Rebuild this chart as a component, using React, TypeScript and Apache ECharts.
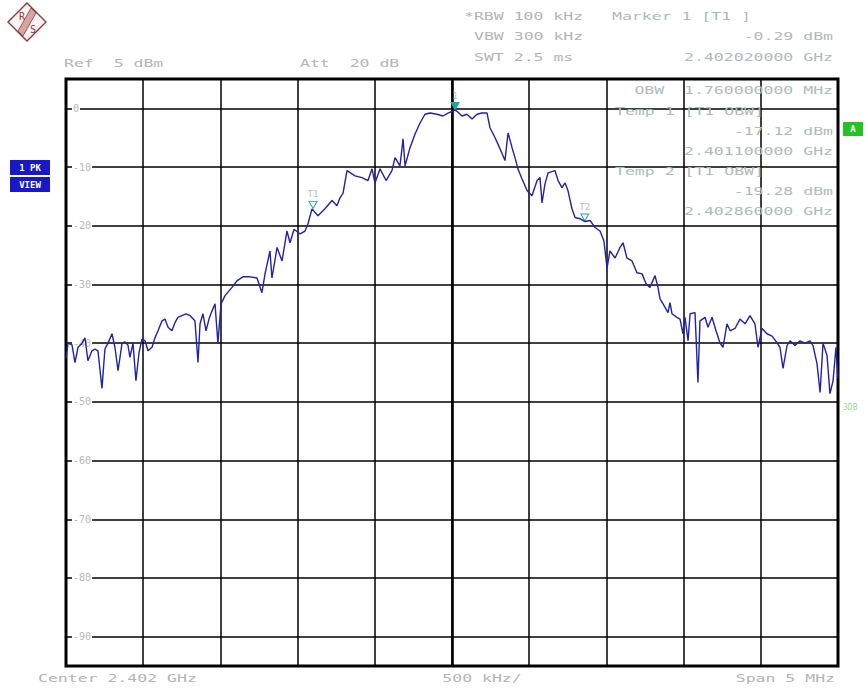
import React, { useEffect, useRef } from "react";
import * as echarts from "echarts";

// Frequency offset from the 2.402 GHz centre (MHz) and measured level (dBm)
const freqOffsetMHz = [
  -2.5, -2.487, -2.461, -2.442, -2.422, -2.396, -2.377, -2.358, -2.332, -2.312,
  -2.293, -2.267, -2.248, -2.228, -2.202, -2.183, -2.163, -2.137, -2.118, -2.099,
  -2.086, -2.066, -2.047, -2.027, -2.008, -1.988, -1.969, -1.943, -1.924, -1.904,
  -1.878, -1.859, -1.839, -1.814, -1.794, -1.775, -1.749, -1.723, -1.697, -1.665,
  -1.645, -1.632, -1.613, -1.593, -1.574, -1.554, -1.535, -1.516, -1.496, -1.47,
  -1.425, -1.393, -1.354, -1.308, -1.263, -1.231, -1.211, -1.179, -1.166, -1.133,
  -1.101, -1.069, -1.049, -1.023, -0.984, -0.952, -0.933, -0.907, -0.868, -0.823,
  -0.777, -0.745, -0.725, -0.706, -0.68, -0.628, -0.583, -0.544, -0.518, -0.499,
  -0.466, -0.427, -0.389, -0.369, -0.337, -0.317, -0.304, -0.272, -0.24, -0.207,
  -0.175, -0.142, -0.097, -0.058, -0.026, 0.019, 0.032, 0.065, 0.097, 0.13,
  0.162, 0.194, 0.227, 0.246, 0.279, 0.311, 0.343, 0.363, 0.389, 0.408,
  0.427, 0.453, 0.486, 0.518, 0.551, 0.57, 0.583, 0.602, 0.622, 0.667,
  0.687, 0.712, 0.732, 0.751, 0.777, 0.797, 0.829, 0.861, 0.894, 0.926,
  0.959, 0.984, 1.004, 1.023, 1.056, 1.088, 1.108, 1.133, 1.166, 1.198,
  1.231, 1.257, 1.282, 1.315, 1.334, 1.347, 1.367, 1.399, 1.412, 1.425,
  1.457, 1.477, 1.496, 1.509, 1.529, 1.542, 1.574, 1.593, 1.606, 1.639,
  1.658, 1.684, 1.71, 1.736, 1.755, 1.781, 1.801, 1.833, 1.865, 1.898,
  1.93, 1.962, 1.982, 2.008, 2.04, 2.073, 2.105, 2.124, 2.144, 2.17,
  2.189, 2.222, 2.254, 2.286, 2.319, 2.338, 2.364, 2.384, 2.403, 2.429,
  2.448, 2.468, 2.487, 2.5,
];

const levelDbm = [
  -42.6, -40.0, -40.3, -43.3, -40.7, -40.0, -39.1, -43.0, -41.3, -41.0,
  -41.3, -47.7, -41.0, -40.0, -38.4, -40.7, -44.7, -40.0, -39.8, -40.3,
  -42.4, -40.0, -46.4, -41.6, -39.3, -39.6, -41.3, -40.7, -39.1, -37.9,
  -36.2, -35.9, -37.3, -37.9, -36.5, -35.6, -35.3, -35.0, -35.3, -36.2,
  -43.3, -36.7, -35.0, -37.9, -35.9, -34.5, -33.3, -40.0, -33.3, -31.9,
  -30.5, -29.4, -28.7, -28.7, -28.9, -31.4, -28.2, -24.3, -28.9, -23.7,
  -26.0, -20.9, -22.9, -20.6, -21.4, -20.9, -19.7, -17.12, -18.3, -17.1,
  -15.7, -16.6, -15.2, -14.5, -10.6, -11.5, -11.8, -12.3, -10.3, -12.7,
  -10.3, -12.3, -10.6, -8.4, -9.8, -5.2, -9.8, -6.7, -4.4, -2.5,
  -1.0, -0.8, -1.0, -1.3, -0.8, -0.29, -0.5, -1.3, -1.0, -1.8,
  -1.0, -0.8, -0.8, -3.3, -5.0, -6.9, -8.9, -4.2, -6.7, -8.4,
  -10.3, -12.0, -14.0, -14.9, -12.3, -11.8, -16.1, -12.9, -11.0, -10.6,
  -12.3, -13.5, -12.7, -14.0, -17.1, -18.6, -18.8, -19.28, -19.1, -20.3,
  -20.9, -22.6, -27.2, -24.3, -25.5, -23.7, -22.9, -25.5, -26.0, -28.0,
  -28.2, -29.9, -30.5, -28.5, -30.5, -32.4, -33.3, -34.8, -33.1, -35.0,
  -35.6, -35.9, -38.4, -35.6, -39.6, -35.0, -34.8, -46.7, -36.2, -35.6,
  -37.3, -35.6, -37.9, -40.0, -40.7, -36.7, -37.9, -37.5, -35.9, -36.7,
  -35.3, -36.7, -40.7, -37.5, -38.4, -38.8, -39.9, -40.7, -44.3, -40.4,
  -39.6, -40.4, -39.6, -40.0, -39.6, -40.4, -43.5, -48.4, -40.0, -42.1,
  -48.6, -46.4, -40.7, -46.0,
];

const markerNames = ["1", "T1", "T2"];
const markerFreqOffsetMHz = [0.02, -0.9, 0.86];
const markerLevelDbm = [-0.29, -17.12, -19.28];

const levelTickLabels = ["0", "-10", "-20", "-30", "-40", "-50", "-60", "-70", "-80", "-90"];

const setupLeft = ["Ref  5 dBm", "Att  20 dB"];
const setupBandwidth = ["*RBW 100 kHz", "VBW 300 kHz", "SWT 2.5 ms"];
const markerTitle = "Marker 1 [T1 ]";
const markerReadout = ["-0.29 dBm", "2.402020000 GHz"];
const obwLine = "OBW  1.760000000 MHz";
const tempTitles = ["Temp 1 [T1 OBW]", "Temp 2 [T1 OBW]"];
const tempReadouts = ["-17.12 dBm", "2.401100000 GHz", "-19.28 dBm", "2.402860000 GHz"];
const footer = ["Center 2.402 GHz", "500 kHz/", "Span 5 MHz"];
const traceTags = ["1 PK", "VIEW"];

const MONO = "'DejaVu Sans Mono', 'Liberation Mono', monospace";
const GREY = "#b4b4b4";
const PANEL = "#aebbb8";

function txt(x: number, y: number, text: string, align: string = "left", fill: string = GREY, size = 11, sx = 1.5) {
  return {
    type: "text",
    x,
    y,
    scaleX: sx,
    z: 20,
    silent: true,
    style: {
      text,
      fill,
      font: `${size}px ${MONO}`,
      textAlign: align,
      textVerticalAlign: "middle",
      verticalAlign: "middle",
    },
  };
}

export default function App() {
  const ref = useRef<HTMLDivElement>(null);

  useEffect(() => {
    if (!ref.current) return;
    const chart = echarts.init(ref.current, null, { renderer: "svg" });

    const traceData = freqOffsetMHz.map((f, i) => [f, levelDbm[i]]);

    const markPoints = markerNames.map((name, i) => ({
      name,
      coord: [markerFreqOffsetMHz[i], markerLevelDbm[i]],
      symbol: "triangle",
      symbolRotate: 180,
      symbolSize: [8, 7],
      symbolOffset: [0, -4],
      itemStyle: {
        color: i === 0 ? "#1fa596" : "rgba(255,255,255,0.6)",
        borderColor: "#2aa89a",
        borderWidth: 1,
      },
      label: {
        show: true,
        formatter: name,
        position: "top",
        distance: 2,
        color: "#9fcac5",
        fontSize: 9,
        fontFamily: MONO,
      },
    }));

    const graphics: any[] = [
      // R&S logo
      {
        type: "polygon",
        z: 20,
        shape: { points: [[27, 3], [46, 22], [27, 41], [8, 22]] },
        style: { fill: "#fbf4f4", stroke: "#8e3b3b", lineWidth: 1.4 },
      },
      {
        type: "polygon",
        z: 21,
        shape: { points: [[31, 8], [36, 13], [23, 36], [18, 31]] },
        style: { fill: "#d8a2a2", stroke: "#8e3b3b", lineWidth: 0.8 },
      },
      txt(22, 16, "R", "center", "#8e3b3b", 10, 1),
      txt(33, 29, "S", "center", "#8e3b3b", 10, 1),
      // header
      txt(64, 63, setupLeft[0]),
      txt(300, 63, setupLeft[1]),
      txt(464, 16, setupBandwidth[0]),
      txt(474, 36, setupBandwidth[1]),
      txt(474, 57, setupBandwidth[2]),
      txt(612, 16, markerTitle, "left", PANEL),
      txt(833, 36, markerReadout[0], "right", PANEL),
      txt(833, 57, markerReadout[1], "right", PANEL),
      // marker panel inside the graticule
      txt(833, 90, obwLine, "right", PANEL),
      txt(615, 111, tempTitles[0], "left", PANEL),
      txt(833, 131, tempReadouts[0], "right", PANEL),
      txt(833, 151, tempReadouts[1], "right", PANEL),
      txt(615, 171, tempTitles[1], "left", PANEL),
      txt(833, 191, tempReadouts[2], "right", PANEL),
      txt(833, 211, tempReadouts[3], "right", PANEL),
      // footer
      txt(38, 678, footer[0]),
      txt(482, 678, footer[1], "center"),
      txt(835, 678, footer[2], "right"),
      // trace tags
      { type: "rect", z: 20, shape: { x: 10, y: 160, width: 40, height: 15 }, style: { fill: "#1818c8" } },
      { type: "rect", z: 20, shape: { x: 10, y: 177, width: 40, height: 15 }, style: { fill: "#1818c8" } },
      {
        type: "text", z: 21, x: 30, y: 168,
        style: { text: traceTags[0], fill: "#ffffff", font: `bold 9px ${MONO}`, textAlign: "center", textVerticalAlign: "middle", verticalAlign: "middle" },
      },
      {
        type: "text", z: 21, x: 30, y: 185,
        style: { text: traceTags[1], fill: "#ffffff", font: `bold 9px ${MONO}`, textAlign: "center", textVerticalAlign: "middle", verticalAlign: "middle" },
      },
      // "A" flag
      { type: "rect", z: 20, shape: { x: 843, y: 122, width: 20, height: 14 }, style: { fill: "#22c322" } },
      {
        type: "text", z: 21, x: 853, y: 129,
        style: { text: "A", fill: "#ffffff", font: `bold 9px ${MONO}`, textAlign: "center", textVerticalAlign: "middle", verticalAlign: "middle" },
      },
      {
        type: "text", z: 21, x: 843, y: 407,
        style: { text: "3DB", fill: "#9ed69e", font: `8px ${MONO}`, textAlign: "left", textVerticalAlign: "middle", verticalAlign: "middle" },
      },
    ];

    chart.setOption({
      animation: false,
      backgroundColor: "#ffffff",
      grid: {
        left: 66,
        top: 79,
        right: 30,
        bottom: 22,
        show: true,
        borderColor: "#000000",
        borderWidth: 3,
        backgroundColor: "transparent",
      },
      xAxis: {
        type: "value",
        min: -2.5,
        max: 2.5,
        interval: 0.5,
        axisLine: { show: false },
        axisTick: { show: false },
        axisLabel: { show: false },
        splitLine: { show: true, lineStyle: { color: "#000000", width: 1.5 } },
      },
      yAxis: {
        type: "value",
        min: -95,
        max: 5,
        minInterval: 10,
        maxInterval: 10,
        axisLine: { show: false },
        axisTick: { show: false },
        splitLine: { show: true, lineStyle: { color: "#000000", width: 1.5 } },
        axisLabel: {
          show: true,
          inside: true,
          margin: 6,
          showMinLabel: false,
          showMaxLabel: false,
          color: "#b8b8b8",
          fontSize: 10,
          fontFamily: MONO,
          backgroundColor: "#ffffff",
          padding: [0, 1],
          formatter: (v: number) => {
            const s = String(Math.round(v));
            return levelTickLabels.indexOf(s) >= 0 ? s : "";
          },
        },
      },
      series: [
        {
          type: "line",
          data: traceData,
          symbol: "none",
          showSymbol: false,
          z: 5,
          lineStyle: { color: "#2121aa", width: 1.4 },
          itemStyle: { color: "#2121aa" },
          markLine: {
            silent: true,
            symbol: "none",
            label: { show: false },
            lineStyle: { color: "#000000", width: 2.6, type: "solid" },
            data: [{ xAxis: 0 }],
          },
          markPoint: { silent: true, data: markPoints },
        },
      ],
      graphic: graphics,
    });

    return () => chart.dispose();
  }, []);

  return (
    <div
      ref={ref}
      style={{ position: "absolute", left: 0, top: 0, width: 868, height: 688, background: "#ffffff" }}
    />
  );
}
